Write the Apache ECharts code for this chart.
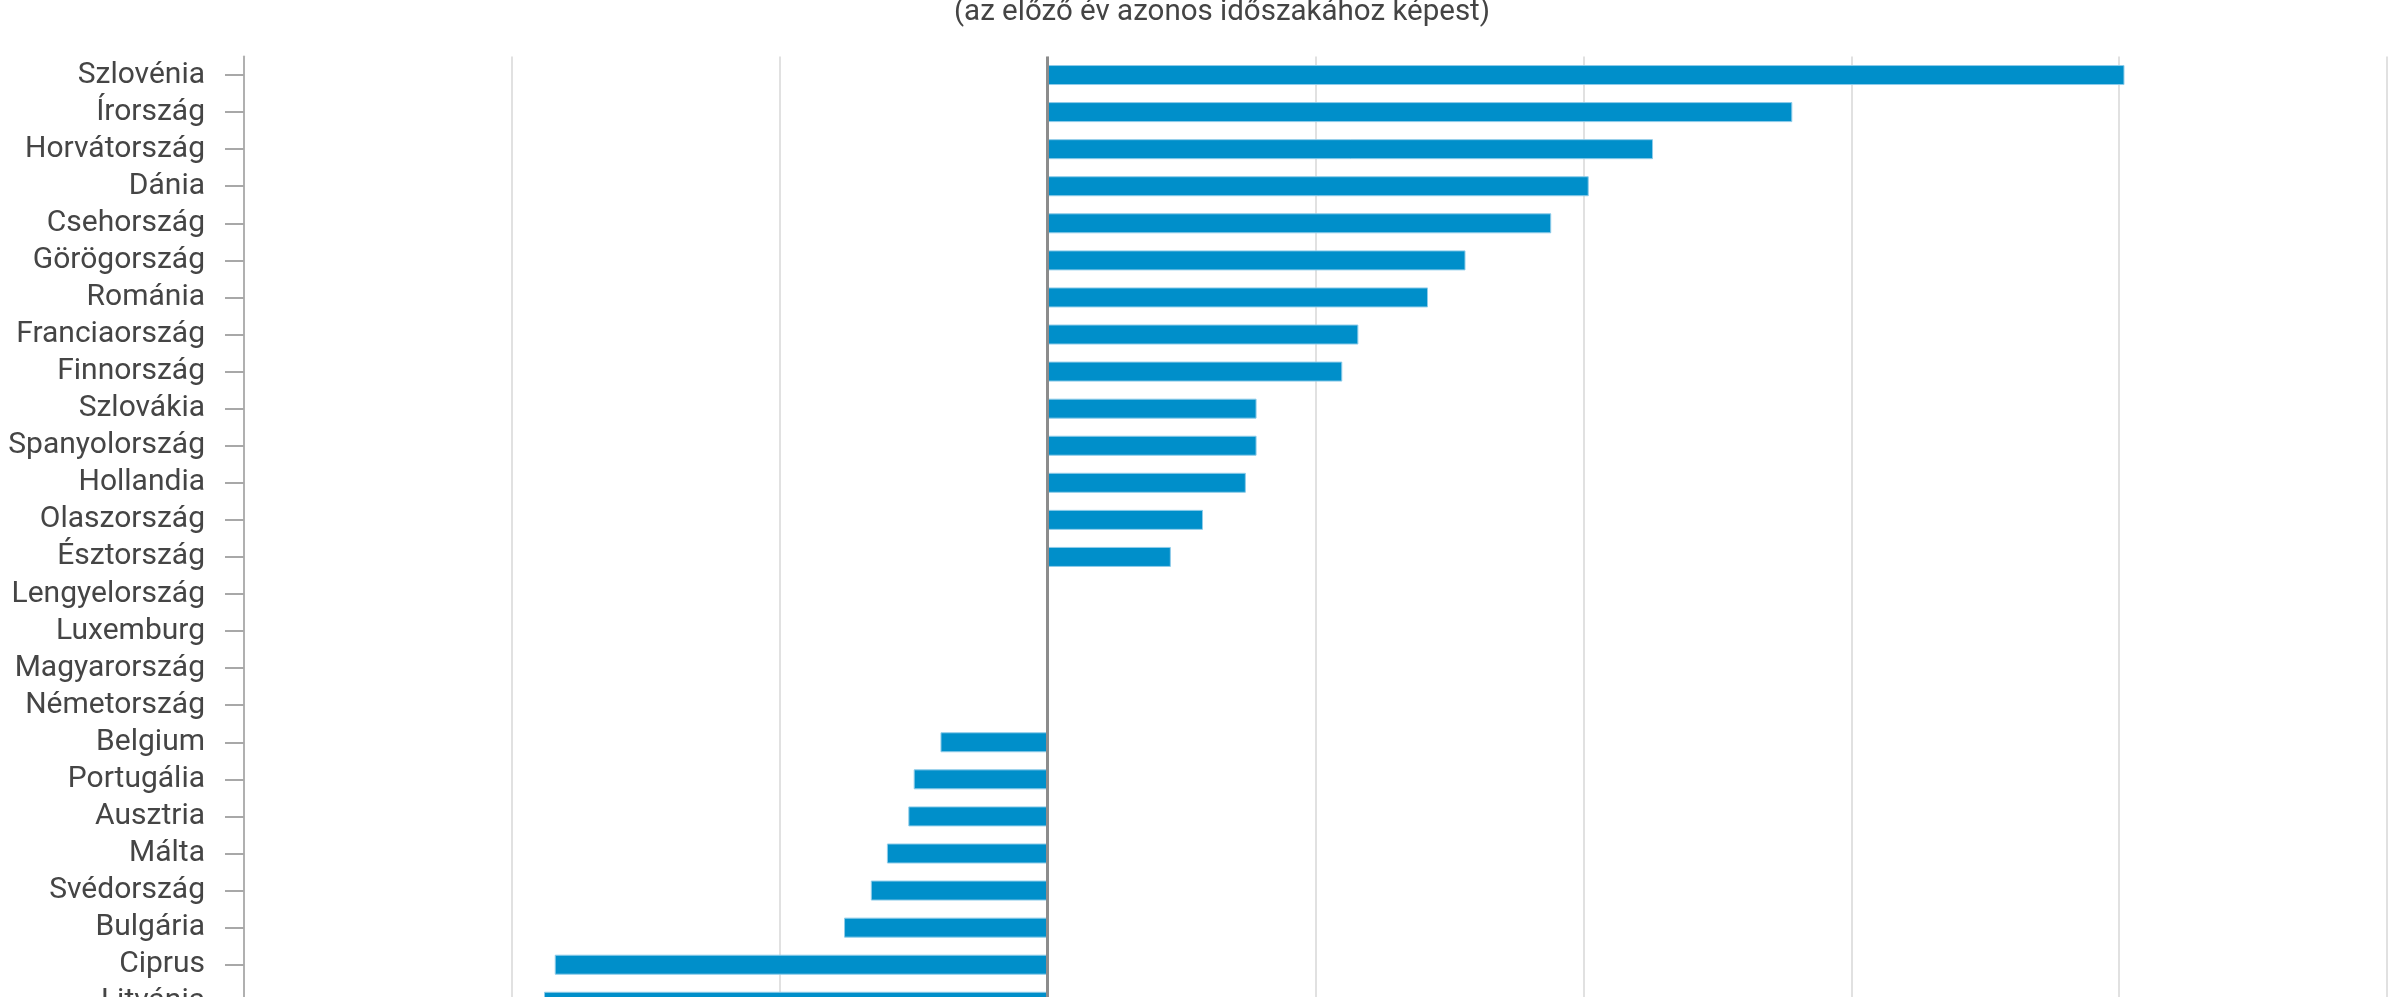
<!DOCTYPE html>
<html>
<head>
<meta charset="utf-8">
<script src="https://cdn.jsdelivr.net/npm/echarts@6/dist/echarts.min.js"></script>
<style>
  html, body { margin: 0; padding: 0; background: #fff; overflow: hidden; }
  #chart { width: 2406px; height: 1100px; }
</style>
</head>
<body>
<div id="chart"></div>
<script>
const subtitle = '(az előző év azonos időszakához képest)';

const countries = [
  'Szlovénia', 'Írország', 'Horvátország', 'Dánia', 'Csehország', 'Görögország',
  'Románia', 'Franciaország', 'Finnország', 'Szlovákia', 'Spanyolország', 'Hollandia',
  'Olaszország', 'Észtország', 'Lengyelország', 'Luxemburg', 'Magyarország', 'Németország',
  'Belgium', 'Portugália', 'Ausztria', 'Málta', 'Svédország', 'Bulgária', 'Ciprus', 'Litvánia'
];

const changes = [
  20.1, 13.9, 11.3, 10.1, 9.4, 7.8,
  7.1, 5.8, 5.5, 3.9, 3.9, 3.7,
  2.9, 2.3, 0, 0, 0, 0,
  -2.0, -2.5, -2.6, -3.0, -3.3, -3.8, -9.2, -9.4
];

const xMin = -15;
const xMax = 25;
const xStep = 5;

const chart = echarts.init(document.getElementById('chart'), null, { renderer: 'canvas' });

const font = 'Roboto, "Noto Sans", sans-serif';

chart.setOption({
  backgroundColor: '#ffffff',
  animation: false,
  title: {
    text: subtitle,
    left: 954,
    top: -2,
    padding: 0,
    textStyle: { fontFamily: font, fontSize: 29.5, fontWeight: 'normal', color: '#444444' }
  },
  grid: {
    left: 244,
    right: 19,
    top: 56.5,
    bottom: 79.7,
    containLabel: false
  },
  xAxis: {
    type: 'value',
    min: xMin,
    max: xMax,
    interval: xStep,
    axisLine: { show: false },
    axisTick: { show: false },
    axisLabel: { fontFamily: font, fontSize: 28, color: '#444' },
    splitLine: { show: true, lineStyle: { color: '#e1e1e1', width: 2 } }
  },
  yAxis: {
    type: 'category',
    data: countries,
    inverse: true,
    axisLine: { show: true, onZero: false, lineStyle: { color: '#b0b0b0', width: 2 } },
    axisTick: { show: true, length: 19, alignWithLabel: true, interval: 0, lineStyle: { color: '#a8a8a8', width: 2 } },
    axisLabel: { fontFamily: font, fontSize: 30, color: '#454545', margin: 39, interval: 0 },
    splitLine: { show: false }
  },
  series: [{
    type: 'bar',
    data: changes,
    barWidth: 20,
    itemStyle: { color: '#008fca', borderColor: '#8fcce9', borderWidth: 1 },
    markLine: {
      silent: true,
      symbol: 'none',
      label: { show: false },
      lineStyle: { color: '#8c8c8c', width: 3, type: 'solid' },
      data: [{ xAxis: 0 }]
    }
  }]
});
</script>
</body>
</html>
